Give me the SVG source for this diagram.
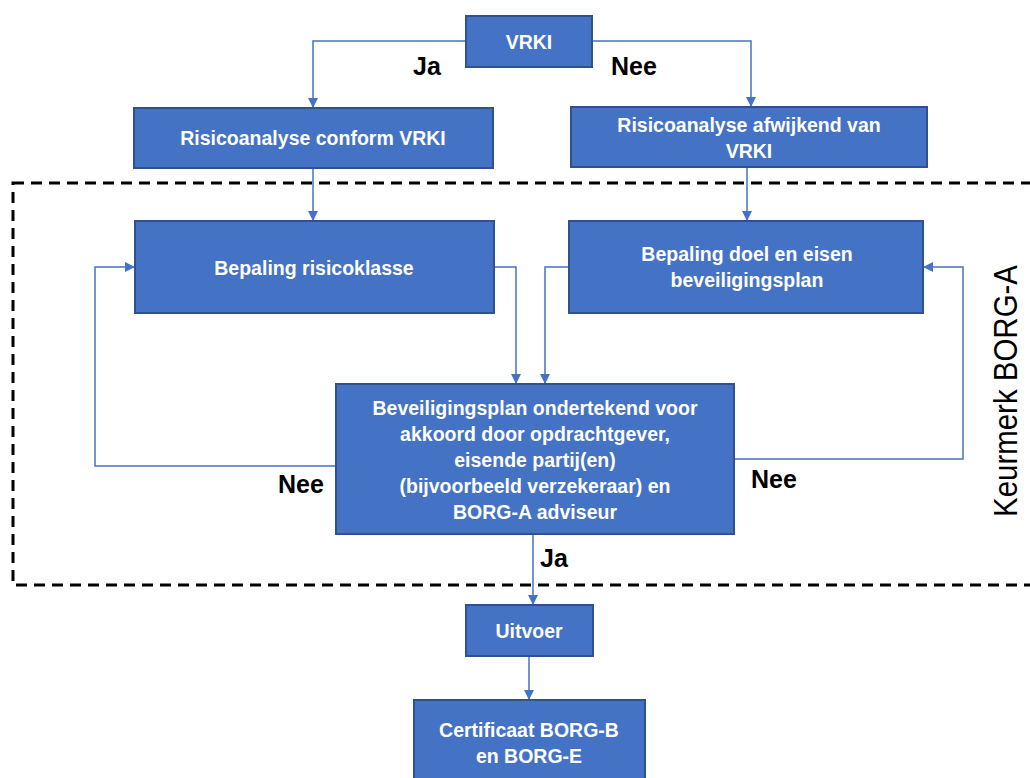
<svg xmlns="http://www.w3.org/2000/svg" width="1030" height="778" viewBox="0 0 1030 778">
<defs>
<marker id="arr" viewBox="0 0 10 10" refX="10" refY="5" markerWidth="10" markerHeight="10" markerUnits="userSpaceOnUse" orient="auto">
<path d="M0,0 L10,5 L0,10 Z" fill="#4472C4"/>
</marker>
<style>
.box{fill:#4472C4;stroke:#2F528F;stroke-width:2}
.t{font-family:"Liberation Sans",Arial,sans-serif;font-size:19.5px;font-weight:bold;fill:#fff;text-anchor:middle}
.lbl{font-family:"Liberation Sans",Arial,sans-serif;font-size:25px;font-weight:bold;fill:#000;text-anchor:middle}
.c{fill:none;stroke:#4472C4;stroke-width:1.5;marker-end:url(#arr)}
</style>
</defs>
<rect width="1030" height="778" fill="#fff"/>
<rect x="13" y="183" width="1030" height="402" fill="none" stroke="#000" stroke-width="3" stroke-dasharray="11 7"/>
<text transform="translate(1017,391) rotate(-90)" font-family="Liberation Sans, Arial, sans-serif" font-size="33" text-anchor="middle" textLength="252" lengthAdjust="spacingAndGlyphs" fill="#000">Keurmerk BORG-A</text>
<g id="connectors">
<path class="c" d="M466,41 H313 V108"/>
<path class="c" d="M592,41 H751 V107"/>
<path class="c" d="M313,168 V221"/>
<path class="c" d="M747,167 V221"/>
<path class="c" d="M336,466 H95 V267 H135"/>
<path class="c" d="M494,267 H516 V384"/>
<path class="c" d="M569,267 H545 V384"/>
<path class="c" d="M734,459 H963 V267 H923"/>
<path class="c" d="M533,534 V605"/>
<path class="c" d="M529,656 V700"/>
</g>
<g id="labels">
<text class="lbl" x="427" y="75">Ja</text>
<text class="lbl" x="634" y="75">Nee</text>
<text class="lbl" x="301" y="493">Nee</text>
<text class="lbl" x="774" y="488">Nee</text>
<text class="lbl" x="554" y="567">Ja</text>
</g>
<g id="vrki"><rect class="box" x="466" y="16" width="126" height="51"/><text class="t" x="529" y="49">VRKI</text></g>
<g id="risico-conform"><rect class="box" x="134" y="108" width="359" height="60"/><text class="t" x="313" y="145">Risicoanalyse conform VRKI</text></g>
<g id="risico-afwijkend"><rect class="box" x="571" y="107" width="356" height="60"/><text class="t" x="749" y="132">Risicoanalyse afwijkend van</text><text class="t" x="749" y="158">VRKI</text></g>
<g id="risicoklasse"><rect class="box" x="135" y="221" width="359" height="92"/><text class="t" x="314" y="275">Bepaling risicoklasse</text></g>
<g id="doel-eisen"><rect class="box" x="569" y="221" width="354" height="92"/><text class="t" x="747" y="261">Bepaling doel en eisen</text><text class="t" x="747" y="287">beveiligingsplan</text></g>
<g id="ondertekend"><rect class="box" x="336" y="384" width="398" height="150"/>
<text class="t" x="535" y="415">Beveiligingsplan ondertekend voor</text>
<text class="t" x="535" y="441">akkoord door opdrachtgever,</text>
<text class="t" x="535" y="467">eisende partij(en)</text>
<text class="t" x="535" y="493">(bijvoorbeeld verzekeraar) en</text>
<text class="t" x="535" y="519">BORG-A adviseur</text></g>
<g id="uitvoer"><rect class="box" x="466" y="605" width="127" height="51"/><text class="t" x="529" y="638">Uitvoer</text></g>
<g id="certificaat"><rect class="box" x="414" y="700" width="231" height="90"/><text class="t" x="529" y="737">Certificaat BORG-B</text><text class="t" x="529" y="763">en BORG-E</text></g>
</svg>
